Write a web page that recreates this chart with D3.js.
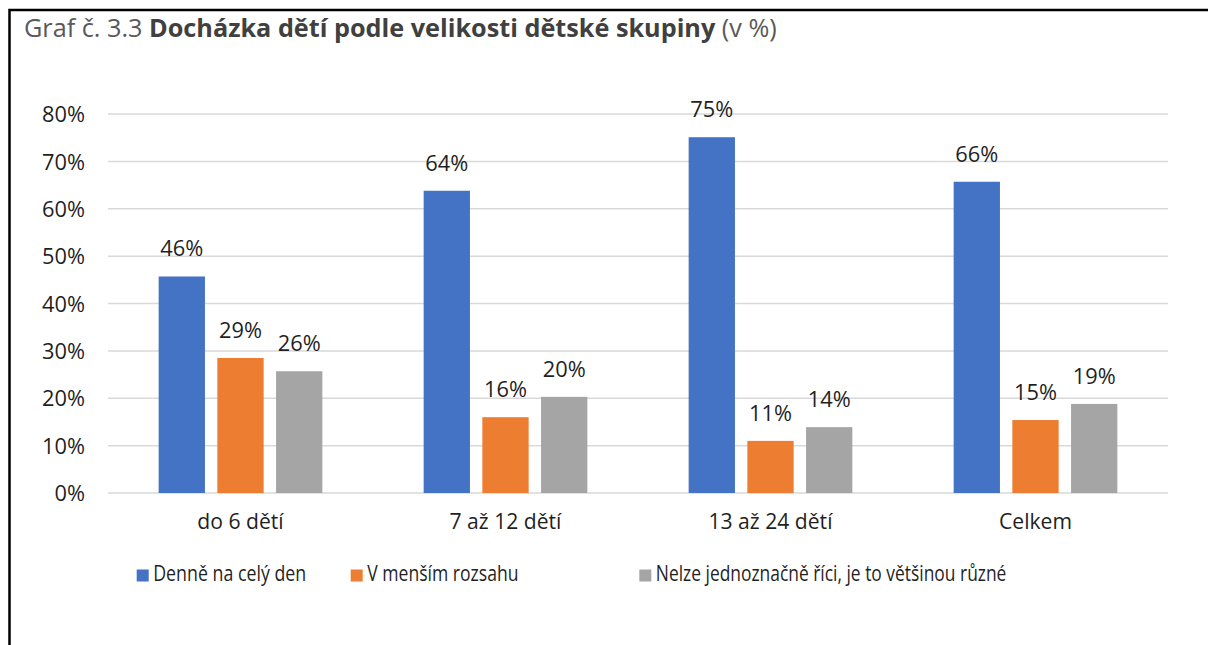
<!DOCTYPE html>
<html><head><meta charset="utf-8">
<script src="https://cdn.jsdelivr.net/npm/d3@7"></script>
<style>body{margin:0;background:#fff}svg{display:block}</style>
</head><body>
<script>
const categories = ["do 6 dětí", "7 až 12 dětí", "13 až 24 dětí", "Celkem"];
const seriesNames = ["Denně na celý den", "V menším rozsahu", "Nelze jednoznačně říci, je to většinou různé"];
const denne = [45.7, 63.8, 75.1, 65.7];
const mensim = [28.5, 16.0, 11.0, 15.4];
const nelze = [25.7, 20.3, 13.9, 18.8];
const yTicks = [0, 10, 20, 30, 40, 50, 60, 70, 80];
const colors = ["#4472C4", "#ED7D31", "#A5A5A5"];
const series = [denne, mensim, nelze];

const W = 1208, H = 645;
const svg = d3.select("body").append("svg").attr("width", W).attr("height", H);
const FONT = "'Open Sans', sans-serif";

function fitSize(text, family, weight, target) {
  const t = svg.append("text").attr("font-family", family).attr("font-weight", weight)
    .attr("font-size", 20).text(text);
  const w = t.node().getComputedTextLength();
  t.remove();
  return 20 * target / w;
}

// frame
svg.append("path").attr("d", `M9.5,${H} L9.5,10 L${W},10`).attr("fill", "none")
  .attr("stroke", "#000").attr("stroke-width", 2.5);

// title
const titleParts = [["Graf č. 3.3 ", 400, "#595959"], ["Docházka dětí podle velikosti dětské skupiny", 700, "#404040"], [" (v %)", 400, "#595959"]];
const title = svg.append("text").attr("x", 24).attr("y", 37).attr("font-family", FONT).attr("font-size", 20);
titleParts.forEach(p => title.append("tspan").attr("font-weight", p[1]).attr("fill", p[2]).text(p[0]));
const tw = title.node().getComputedTextLength();
title.attr("font-size", 20 * 753 / tw);

const m = {left: 108, right: 1168, top: 114, bottom: 493};
const x = d3.scaleBand().domain(categories).range([m.left, m.right]).paddingInner(0).paddingOuter(0);
const y = d3.scaleLinear().domain([0, 80]).range([m.bottom, m.top]);

// gridlines
svg.append("g").selectAll("line").data(yTicks).join("line")
  .attr("x1", m.left).attr("x2", m.right)
  .attr("y1", d => y(d)).attr("y2", d => y(d))
  .attr("stroke", "#d9d9d9").attr("stroke-width", 1.5);

const tickSize = fitSize("80%", FONT, 400, 43);
const yAxis = d3.axisLeft(y).tickValues(yTicks).tickFormat(d => d + "%").tickSize(0).tickPadding(23);
const ga = svg.append("g").attr("transform", `translate(${m.left},0)`).call(yAxis);
ga.select(".domain").remove();
ga.selectAll("text").attr("font-family", FONT).attr("font-size", tickSize).attr("fill", "#1f1f1f").attr("dy", "0.35em");

// bars
const barW = 46.3, step = 58.7;
const xs = d3.scaleBand().domain([0, 1, 2]).range([-step * 1.5, step * 1.5]);
series.forEach((vals, si) => {
  const g = svg.append("g");
  g.selectAll("rect").data(vals).join("rect")
    .attr("x", (d, i) => x(categories[i]) + x.bandwidth() / 2 + xs(si) + (step - barW) / 2)
    .attr("width", barW)
    .attr("y", d => y(d)).attr("height", d => y(0) - y(d))
    .attr("fill", colors[si]);
  g.selectAll("text").data(vals).join("text")
    .attr("x", (d, i) => x(categories[i]) + x.bandwidth() / 2 + xs(si) + step / 2)
    .attr("y", d => y(d) - 20)
    .attr("text-anchor", "middle").attr("font-family", FONT).attr("font-size", tickSize)
    .attr("fill", "#1f1f1f").text(d => Math.round(d) + "%");
});

// category labels
const catSize = fitSize("7 až 12 dětí", FONT, 400, 112);
svg.append("g").selectAll("text").data(categories).join("text")
  .attr("x", d => x(d) + x.bandwidth() / 2).attr("y", 529)
  .attr("text-anchor", "middle").attr("font-family", FONT).attr("font-size", catSize)
  .attr("fill", "#1f1f1f").text(d => d);

// legend
const legX = [136.7, 350.7, 639.3];
const legW = [153, 151.3, 350.6];
const lg = svg.append("g").selectAll("g").data(seriesNames).join("g")
  .attr("transform", (d, i) => `translate(${legX[i]},569.5)`);
lg.append("rect").attr("width", 12).attr("height", 12).attr("fill", (d, i) => colors[i]);
lg.append("text").attr("x", 16.5).attr("y", 11.5).attr("font-family", FONT).attr("font-size", 21)
  .attr("textLength", (d, i) => legW[i]).attr("lengthAdjust", "spacingAndGlyphs")
  .attr("fill", "#1f1f1f").text(d => d);
</script>
</body></html>
